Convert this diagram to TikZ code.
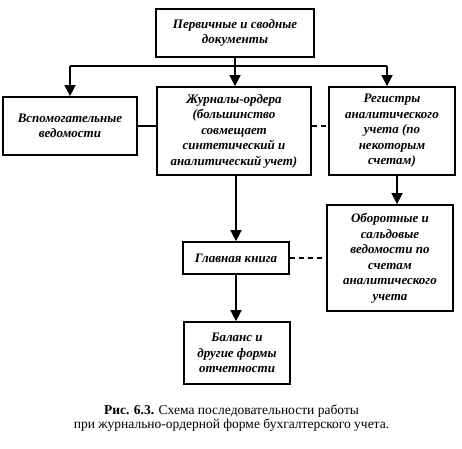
\documentclass[tikz,border=0pt]{standalone}
\usepackage{fontspec}
\setmainfont{Liberation Serif}
\usetikzlibrary{arrows.meta}
\begin{document}
\begin{tikzpicture}[x=1pt,y=-1pt,
  box/.style={draw, line width=1.8pt, inner sep=0pt, align=center,
    font=\fontsize{13}{15.5}\selectfont\bfseries\itshape},
  arr/.style={line width=1.6pt, -{Triangle[length=11pt,width=11pt]}},
  conn/.style={line width=1.6pt},
  dconn/.style={line width=1.6pt, dash pattern=on 5pt off 4pt}]
\useasboundingbox (0,0) rectangle (462,448);
\node[box, minimum width=158pt, minimum height=48pt] (top) at (235,33) {Первичные и сводные\\документы};
\node[box, minimum width=134pt, minimum height=58pt] (aux) at (70,126) {Вспомогательные\\ведомости};
\node[box, minimum width=154pt, minimum height=88pt] (mid) at (234,131) {Журналы-ордера\\(большинство\\совмещает\\синтетический и\\аналитический учет)};
\node[box, minimum width=126pt, minimum height=88pt] (reg) at (392,131) {Регистры\\аналитического\\учета (по\\некоторым\\счетам)};
\node[box, minimum width=106pt, minimum height=32pt] (gk) at (236,258) {Главная книга};
\node[box, minimum width=126pt, minimum height=106pt] (ob) at (390,258) {Оборотные и\\сальдовые\\ведомости по\\счетам\\аналитического\\учета};
\node[box, minimum width=106pt, minimum height=62pt] (bal) at (237,353) {Баланс и\\другие формы\\отчетности};
\node[align=center, inner sep=0pt, font=\fontsize{13.5}{14.5}\selectfont] (cap) at (231.5,418) {\textbf{Рис. 6.3.} Схема последовательности работы\\при журнально-ордерной форме бухгалтерского учета.};
\coordinate (busL) at (70,66);
\coordinate (busR) at (387,66);
\draw[conn] (busL) -- (busR);
\draw[arr] (busL) -- (busL |- aux.north);
\draw[arr] (busR) -- (busR |- reg.north);
\draw[arr] (top.south) -- (top.south |- mid.north);
\draw[conn] (aux.east) -- (aux.east -| mid.west);
\draw[dconn] (aux.east -| mid.east) -- (aux.east -| reg.west);
\draw[arr] (mid.south -| gk.north) -- (gk.north);
\draw[arr] ([xshift=5pt]reg.south) -- ([xshift=5pt]reg.south |- ob.north);
\draw[dconn] (gk.east) -- (gk.east -| ob.west);
\draw[arr] (gk.south) -- (gk.south |- bal.north);
\end{tikzpicture}
\end{document}
